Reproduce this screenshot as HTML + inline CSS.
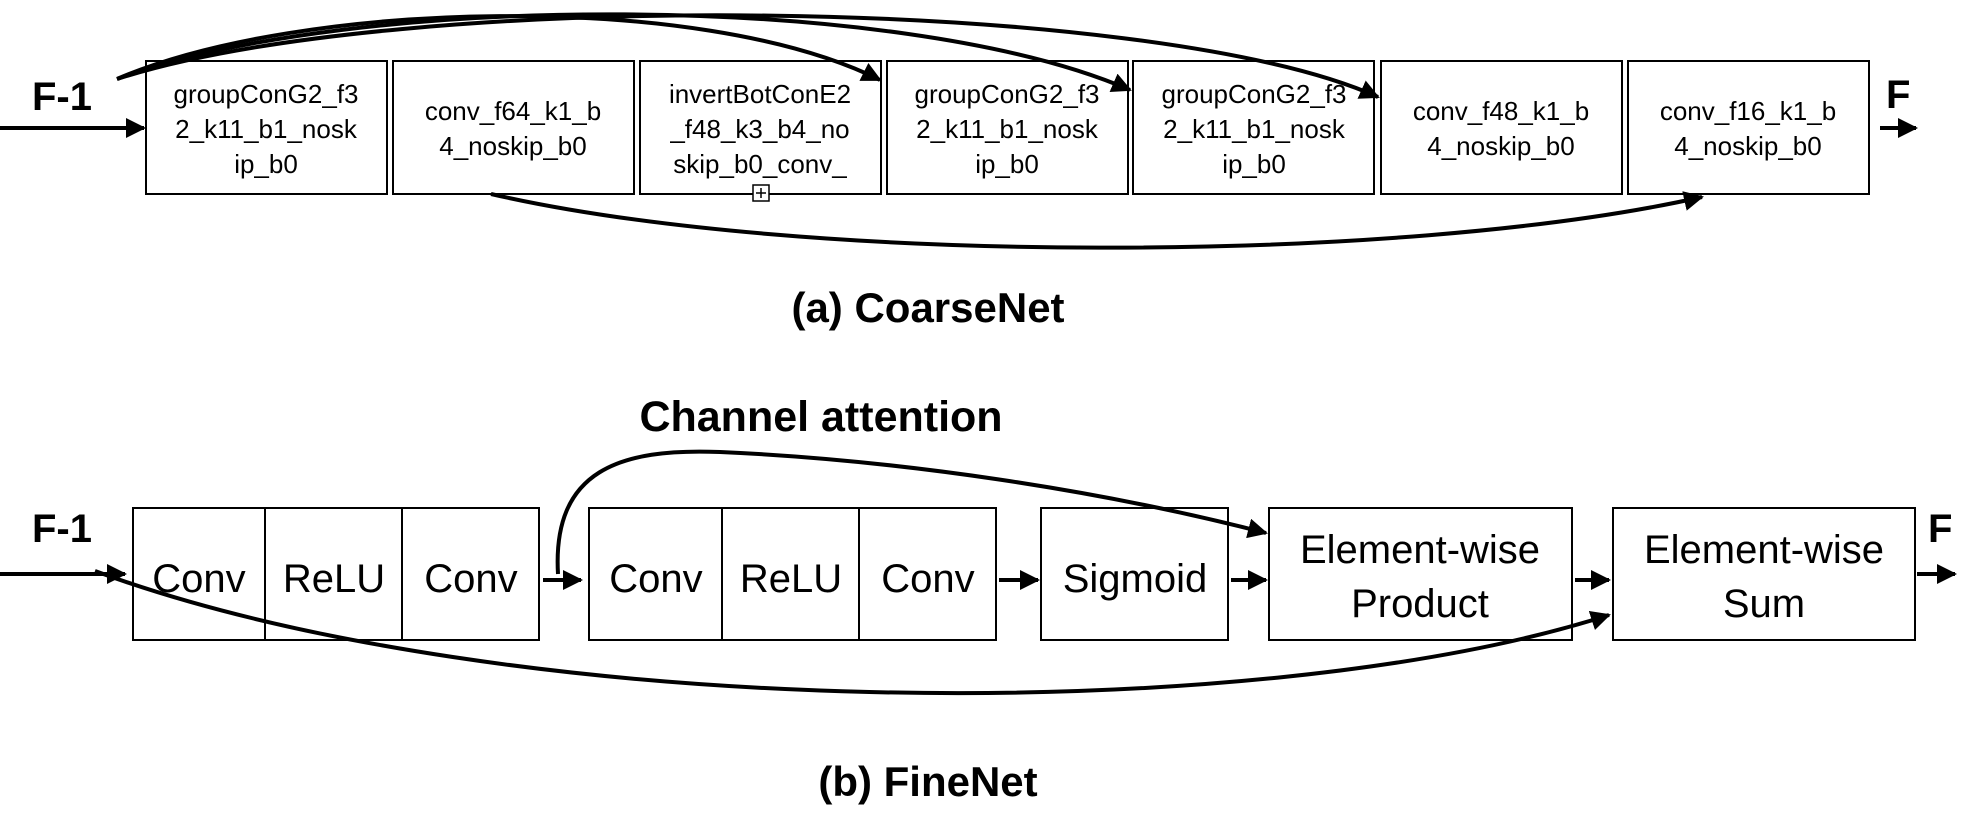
<!DOCTYPE html>
<html><head><meta charset="utf-8"><style>
html,body{margin:0;padding:0;background:#fff;}
svg{display:block;}
text{font-family:"Liberation Sans",sans-serif;fill:#000;}
</style></head><body>
<svg width="1980" height="822" viewBox="0 0 1980 822" xmlns="http://www.w3.org/2000/svg">
<defs>
<marker id="ah" viewBox="0 0 10 10" refX="9" refY="5" markerWidth="20" markerHeight="20" markerUnits="userSpaceOnUse" orient="auto"><path d="M0,0 L10,5 L0,10 z" fill="#000"/></marker>
</defs>
<g fill="none" stroke="#000" stroke-width="2">
<rect x="146" y="61" width="241" height="133"/>
<rect x="393" y="61" width="241" height="133"/>
<rect x="640" y="61" width="241" height="133"/>
<rect x="887" y="61" width="241" height="133"/>
<rect x="1133" y="61" width="241" height="133"/>
<rect x="1381" y="61" width="241" height="133"/>
<rect x="1628" y="61" width="241" height="133"/>
<rect x="753" y="185" width="16" height="16" fill="#fff" stroke-width="1.5"/>
<path d="M761 188 V198 M756 193 H766" stroke-width="1.5"/>
</g>
<g font-size="26" text-anchor="middle">
<text x="266" y="103">groupConG2_f3</text><text x="266" y="138">2_k11_b1_nosk</text><text x="266" y="173">ip_b0</text>
<text x="513" y="120">conv_f64_k1_b</text><text x="513" y="155">4_noskip_b0</text>
<text x="760" y="103">invertBotConE2</text><text x="760" y="138">_f48_k3_b4_no</text><text x="760" y="173">skip_b0_conv_</text>
<text x="1007" y="103">groupConG2_f3</text><text x="1007" y="138">2_k11_b1_nosk</text><text x="1007" y="173">ip_b0</text>
<text x="1254" y="103">groupConG2_f3</text><text x="1254" y="138">2_k11_b1_nosk</text><text x="1254" y="173">ip_b0</text>
<text x="1501" y="120">conv_f48_k1_b</text><text x="1501" y="155">4_noskip_b0</text>
<text x="1748" y="120">conv_f16_k1_b</text><text x="1748" y="155">4_noskip_b0</text>
</g>
<g font-weight="bold">
<text x="32" y="110" font-size="40">F-1</text>
<text x="1886" y="108" font-size="40">F</text>
<text x="928" y="322" font-size="42" text-anchor="middle">(a) CoarseNet</text>
<text x="821" y="431" font-size="43" text-anchor="middle">Channel attention</text>
<text x="32" y="542" font-size="40">F-1</text>
<text x="1928" y="542" font-size="40">F</text>
<text x="928" y="796" font-size="42" text-anchor="middle">(b) FineNet</text>
</g>
<g fill="none" stroke="#000" stroke-width="4" marker-end="url(#ah)">
<path d="M0 128 H144"/>
<path d="M1880 128 H1916"/>
<path d="M117 79 C 300 0, 700 -10, 880 80"/>
<path d="M117 79 C 350 -8, 900 -10, 1130 90"/>
<path d="M117 79 C 400 -12, 1150 -5, 1378 97"/>
<path d="M491 194 C 800 265, 1400 265, 1702 197"/>
<path d="M0 574 H125"/>
<path d="M543 580 H581"/>
<path d="M999 580 H1038"/>
<path d="M1231 580 H1266"/>
<path d="M1575 580 H1609"/>
<path d="M1917 574 H1955"/>
<path d="M95 571 C 500 720, 1250 730, 1609 615"/>
<path d="M558 574 C 552 470, 620 448, 720 452 C 900 460, 1100 490, 1266 533"/>
</g>
<g fill="none" stroke="#000" stroke-width="2">
<rect x="133" y="508" width="406" height="132"/>
<line x1="265" y1="508" x2="265" y2="640"/><line x1="402" y1="508" x2="402" y2="640"/>
<rect x="589" y="508" width="407" height="132"/>
<line x1="722" y1="508" x2="722" y2="640"/><line x1="859" y1="508" x2="859" y2="640"/>
<rect x="1041" y="508" width="187" height="132"/>
<rect x="1269" y="508" width="303" height="132"/>
<rect x="1613" y="508" width="302" height="132"/>
</g>
<g font-size="40" text-anchor="middle">
<text x="199" y="592">Conv</text><text x="334" y="592">ReLU</text><text x="471" y="592">Conv</text>
<text x="656" y="592">Conv</text><text x="791" y="592">ReLU</text><text x="928" y="592">Conv</text>
<text x="1135" y="592">Sigmoid</text>
<text x="1420" y="563">Element-wise</text><text x="1420" y="617">Product</text>
<text x="1764" y="563">Element-wise</text><text x="1764" y="617">Sum</text>
</g>
</svg>
</body></html>
